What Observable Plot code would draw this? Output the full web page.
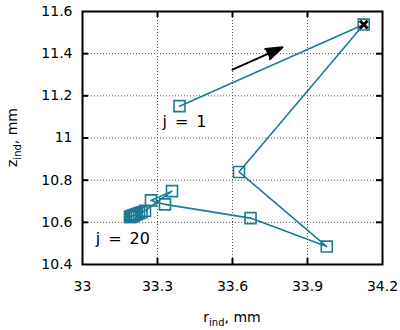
<!DOCTYPE html>
<html>
<head>
<meta charset="utf-8">
<script src="https://cdn.jsdelivr.net/npm/d3@7"></script>
<script src="https://cdn.jsdelivr.net/npm/@observablehq/plot@0.6"></script>
<style>
  body { margin: 0; background: white; }
  #chart svg { display: block; }
</style>
</head>
<body>
<div id="chart"></div>
<script>
// iteration index j = 1..20
const jIndex = [1,2,3,4,5,6,7,8,9,10,11,12,13,14,15,16,17,18,19,20];
// r_ind, mm
const rVals = [33.388, 34.125, 33.626, 33.977, 33.672, 33.330, 33.274, 33.358, 33.250, 33.236,
               33.226, 33.217, 33.211, 33.205, 33.201, 33.198, 33.195, 33.193, 33.191, 33.190];
// z_ind, mm
const zVals = [11.151, 11.538, 10.839, 10.485, 10.620, 10.685, 10.704, 10.748, 10.655, 10.648,
               10.643, 10.639, 10.636, 10.633, 10.631, 10.629, 10.628, 10.627, 10.626, 10.625];
const xTicks = [33, 33.3, 33.6, 33.9, 34.2];
const yTicks = [10.4, 10.6, 10.8, 11, 11.2, 11.4, 11.6];
const finalIndex = [1]; // point marked with x
const labels = [
  {text: "j\u2002=\u20021", r: 33.32, z: 11.075},
  {text: "j\u2002=\u200220", r: 33.053, z: 10.522}
];
const arrowData = [{r1: 33.60, z1: 11.324, r2: 33.80, z2: 11.43}];

const data = jIndex.map((j, i) => ({j, r: rVals[i], z: zVals[i]}));
const teal = "#1f7a95";
const fmt = d => String(+d.toFixed(1));

const W = 400, H = 330, mL = 82, mR = 18, mT = 11, mB = 66;
const fw = W - mL - mR, fh = H - mT - mB;

const chart = Plot.plot({
  width: W, height: H,
  marginLeft: mL, marginRight: mR, marginTop: mT, marginBottom: mB,
  style: {fontFamily: "DejaVu Sans", fontSize: "14px", background: "white", color: "black"},
  x: {domain: [33, 34.2]},
  y: {domain: [10.4, 11.6]},
  marks: [
    Plot.gridX(xTicks.slice(1, -1), {stroke: "#555", strokeOpacity: 1, strokeDasharray: "1,2", strokeWidth: 1}),
    Plot.gridY(yTicks.slice(1, -1), {stroke: "#555", strokeOpacity: 1, strokeDasharray: "1,2", strokeWidth: 1}),
    Plot.line(data, {x: "r", y: "z", stroke: teal, strokeWidth: 1.6}),
    Plot.dot(data, {x: "r", y: "z", symbol: "square", r: 6.2, stroke: teal, strokeWidth: 1.6, fill: "none"}),
    Plot.dot(finalIndex.map(i => data[i]), {x: "r", y: "z", symbol: "times", r: 3.6, stroke: "black", strokeWidth: 3}),
    Plot.arrow(arrowData, {x1: "r1", y1: "z1", x2: "r2", y2: "z2", stroke: "black", fill: "black", strokeWidth: 2, headLength: 13, headAngle: 38}),
    Plot.text(labels, {x: "r", y: "z", text: "text", textAnchor: "start", fontSize: 16, fill: "black"}),
    Plot.frame({stroke: "black", strokeWidth: 2}),
    // inward ticks on all four sides
    Plot.ruleX(xTicks.slice(1, -1), {stroke: "black", strokeWidth: 2, insetTop: fh - 6}),
    Plot.ruleX(xTicks.slice(1, -1), {stroke: "black", strokeWidth: 2, insetBottom: fh - 6}),
    Plot.ruleY(yTicks.slice(1, -1), {stroke: "black", strokeWidth: 2, insetRight: fw - 6}),
    Plot.ruleY(yTicks.slice(1, -1), {stroke: "black", strokeWidth: 2, insetLeft: fw - 6}),
    Plot.axisX(xTicks, {tickSize: 0, tickPadding: 17, tickFormat: fmt, fontSize: 14, label: null}),
    Plot.axisY(yTicks, {tickSize: 0, tickPadding: 10, tickFormat: fmt, fontSize: 14, label: null})
  ]
});

// axis titles with subscripts
const sx = chart.scale("x"), sy = chart.scale("y");
const xs = v => sx.apply(v), ys = v => sy.apply(v);
const cx = (xs(33) + xs(34.2)) / 2;
const cy = (ys(10.4) + ys(11.6)) / 2;
const svg = d3.select(chart);
const xt = svg.append("text")
  .attr("x", cx).attr("y", ys(10.4) + 58)
  .attr("text-anchor", "middle")
  .attr("font-family", "DejaVu Sans").attr("font-size", 14).attr("fill", "black");
xt.append("tspan").text("r");
xt.append("tspan").attr("font-size", 10).attr("dy", 4).text("ind");
xt.append("tspan").attr("dy", -4).text(", mm");

const yt = svg.append("text")
  .attr("transform", `translate(${xs(33) - 65},${cy}) rotate(-90)`)
  .attr("text-anchor", "middle")
  .attr("font-family", "DejaVu Sans").attr("font-size", 14).attr("fill", "black");
yt.append("tspan").text("z");
yt.append("tspan").attr("font-size", 10).attr("dy", 4).text("ind");
yt.append("tspan").attr("dy", -4).text(", mm");

document.getElementById("chart").appendChild(chart);
</script>
</body>
</html>
